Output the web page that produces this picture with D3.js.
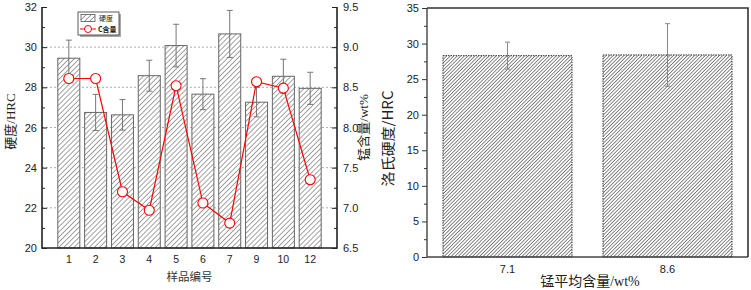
<!DOCTYPE html>
<html>
<head>
<meta charset="utf-8">
<script src="https://cdn.jsdelivr.net/npm/d3@7"></script>
<style>
  body { margin: 0; background: #fff; }
  svg { display: block; }
</style>
</head>
<body>
<div id="chart"></div>
<script>
// left chart data
const samples = ["1", "2", "3", "4", "5", "6", "7", "9", "10", "12"];
const hardness = [29.45, 26.75, 26.63, 28.58, 30.08, 27.66, 30.66, 27.26, 28.55, 27.95];
const hardnessErr = [0.9, 0.9, 0.76, 0.77, 1.06, 0.77, 1.17, 0.73, 0.85, 0.8];
const carbon = [8.61, 8.61, 7.2, 6.97, 8.52, 7.06, 6.81, 8.57, 8.49, 7.35];
const leftTicks = [20, 22, 24, 26, 28, 30, 32];
const rightTicks = [6.5, 7.0, 7.5, 8.0, 8.5, 9.0, 9.5];

// right chart data
const mnGroups = ["7.1", "8.6"];
const mnHardness = [28.3, 28.4];
const mnErr = [1.9, 4.4];
const mnTicks = [0, 5, 10, 15, 20, 25, 30, 35];

const width = 751, height = 290;
const sans = "'Liberation Sans', Arial, 'Noto Sans CJK SC', sans-serif";
const cjk = "'Noto Sans CJK SC', sans-serif";
const serif = "'Liberation Serif', 'Times New Roman', 'Noto Sans CJK SC', serif";

const svg = d3.select("#chart").append("svg")
    .attr("width", width)
    .attr("height", height)
    .attr("viewBox", [0, 0, width, height]);

const defs = svg.append("defs");
// hatch patterns
function hatch(id, size, color, sw) {
  const p = defs.append("pattern")
      .attr("id", id)
      .attr("patternUnits", "userSpaceOnUse")
      .attr("width", size).attr("height", size)
      .attr("patternTransform", "rotate(45)");
  p.append("rect").attr("width", size).attr("height", size).attr("fill", "#fff");
  p.append("line").attr("x1", 0).attr("y1", 0).attr("x2", 0).attr("y2", size)
      .attr("stroke", color).attr("stroke-width", sw);
}
hatch("hatchL", 3.6, "#444", 1);
hatch("hatchR", 2.5, "#3a3a3a", 1.2);

// ---------- left chart ----------
const L = {left: 42, right: 337, top: 7, bottom: 248};
const x = d3.scaleLinear([0, samples.length + 1], [L.left, L.right]);
const y = d3.scaleLinear([20, 32], [L.bottom, L.top]);
const y2 = d3.scaleLinear([6.5, 9.5], [L.bottom, L.top]);
const barW = 22;

const gL = svg.append("g");

// dashed grid
gL.append("g")
  .selectAll("line")
  .data(leftTicks.slice(1, -1))
  .join("line")
    .attr("x1", L.left).attr("x2", L.right)
    .attr("y1", d => y(d)).attr("y2", d => y(d))
    .attr("stroke", "#999").attr("stroke-width", 0.8)
    .attr("stroke-dasharray", "2,2");

// bars
gL.append("g")
  .selectAll("rect")
  .data(hardness)
  .join("rect")
    .attr("x", (d, i) => x(i + 1) - barW / 2)
    .attr("y", d => y(d))
    .attr("width", barW)
    .attr("height", d => y(20) - y(d))
    .attr("fill", "url(#hatchL)")
    .attr("stroke", "#666")
    .attr("stroke-width", 1);

// error bars
const eb = gL.append("g").attr("stroke", "#777").attr("stroke-width", 1);
hardness.forEach((d, i) => {
  const cx = x(i + 1), e = hardnessErr[i];
  eb.append("line").attr("x1", cx).attr("x2", cx).attr("y1", y(d + e)).attr("y2", y(d - e));
  eb.append("line").attr("x1", cx - 3).attr("x2", cx + 3).attr("y1", y(d + e)).attr("y2", y(d + e));
  eb.append("line").attr("x1", cx - 3).attr("x2", cx + 3).attr("y1", y(d - e)).attr("y2", y(d - e));
});

// carbon line
const line = d3.line().x((d, i) => x(i + 1)).y(d => y2(d));
gL.append("path")
    .datum(carbon)
    .attr("d", line)
    .attr("fill", "none")
    .attr("stroke", "#f00")
    .attr("stroke-width", 1.2);
gL.append("g")
  .selectAll("circle")
  .data(carbon)
  .join("circle")
    .attr("cx", (d, i) => x(i + 1))
    .attr("cy", d => y2(d))
    .attr("r", 5)
    .attr("fill", "#fff")
    .attr("stroke", "#f00")
    .attr("stroke-width", 1.1);

// axes (ticks inside)
const axisL = d3.axisLeft(y).tickValues(d3.range(20, 32.1, 1))
    .tickSize(-4).tickPadding(5)
    .tickFormat(d => d % 2 === 0 ? d : "");
gL.append("g").attr("transform", `translate(${L.left},0)`).call(axisL)
  .call(g => g.select(".domain").remove())
  .call(g => g.selectAll(".tick line").attr("stroke", "#222").attr("stroke-width", 1)
      .attr("x2", d => d % 2 === 0 ? 5 : 3))
  .call(g => g.selectAll("text").attr("font-family", sans).attr("font-size", 11).attr("fill", "#222"));

const axisR = d3.axisRight(y2).tickValues(d3.range(6.5, 9.51, 0.25))
    .tickSize(-4).tickPadding(6)
    .tickFormat(d => Math.round(d * 4) % 2 === 0 ? d3.format(".1f")(d) : "");
gL.append("g").attr("transform", `translate(${L.right},0)`).call(axisR)
  .call(g => g.select(".domain").remove())
  .call(g => g.selectAll(".tick line").attr("stroke", "#222").attr("stroke-width", 1)
      .attr("x2", d => Math.round(d * 4) % 2 === 0 ? -5 : -3))
  .call(g => g.selectAll("text").attr("font-family", sans).attr("font-size", 11).attr("fill", "#222"));

// bottom labels
gL.append("g")
  .selectAll("text")
  .data(samples)
  .join("text")
    .attr("x", (d, i) => x(i + 1))
    .attr("y", 263)
    .attr("text-anchor", "middle")
    .attr("font-family", sans).attr("font-size", 10.5).attr("fill", "#222")
    .text(d => d);

// frame lines
gL.append("path")
    .attr("d", `M${L.left},${L.top}V${L.bottom}H${L.right}V${L.top}`)
    .attr("fill", "none").attr("stroke", "#222").attr("stroke-width", 1.6);

// axis titles
gL.append("text")
    .attr("transform", `translate(15,${(L.top + L.bottom) / 2 - 6}) rotate(-90)`)
    .attr("text-anchor", "middle")
    .attr("font-family", serif).attr("font-size", 13).attr("fill", "#222")
    .text("硬度/HRC");
gL.append("text")
    .attr("transform", `translate(368,${(L.top + L.bottom) / 2}) rotate(-90)`)
    .attr("text-anchor", "middle")
    .attr("font-family", serif).attr("font-size", 13).attr("fill", "#222")
    .text("锰含量/wt%");
gL.append("text")
    .attr("x", (L.left + L.right) / 2)
    .attr("y", 281)
    .attr("text-anchor", "middle")
    .attr("font-family", cjk).attr("font-size", 11.5).attr("fill", "#333")
    .text("样品编号");

// legend
const lg = gL.append("g").attr("transform", "translate(78,12)");
lg.append("rect").attr("x", 2).attr("y", 2).attr("width", 41).attr("height", 23).attr("fill", "#aaa");
lg.append("rect").attr("width", 41).attr("height", 23).attr("fill", "#fff").attr("stroke", "#333").attr("stroke-width", 0.8);
lg.append("rect").attr("x", 3).attr("y", 2.5).attr("width", 14).attr("height", 7)
    .attr("fill", "url(#hatchL)").attr("stroke", "#555").attr("stroke-width", 0.8);
lg.append("text").attr("x", 21).attr("y", 9).attr("font-family", cjk).attr("font-size", 7).attr("fill", "#222").text("硬度");
lg.append("line").attr("x1", 2).attr("x2", 18).attr("y1", 17).attr("y2", 17).attr("stroke", "#f00").attr("stroke-width", 1);
lg.append("circle").attr("cx", 10).attr("cy", 17).attr("r", 3.5).attr("fill", "#fff").attr("stroke", "#f00");
lg.append("text").attr("x", 20).attr("y", 20).attr("font-family", cjk).attr("font-size", 7).attr("font-weight", "bold").attr("fill", "#222").text("C含量");

// ---------- right chart ----------
const R = {left: 427, right: 748, top: 8, bottom: 257};
const xb = d3.scaleBand(mnGroups, [R.left, R.right]).paddingInner(0.194).paddingOuter(0.1);
const yb = d3.scaleLinear([0, 35], [R.bottom, R.top]);
const gR = svg.append("g");

gR.append("g")
  .selectAll("rect")
  .data(mnHardness)
  .join("rect")
    .attr("x", (d, i) => xb(mnGroups[i]))
    .attr("y", d => yb(d))
    .attr("width", xb.bandwidth())
    .attr("height", d => yb(0) - yb(d))
    .attr("fill", "url(#hatchR)")
    .attr("stroke", "#333")
    .attr("stroke-width", 1)
    .attr("stroke-dasharray", "1.5,1");

const ebR = gR.append("g").attr("stroke", "#888").attr("stroke-width", 1);
mnHardness.forEach((d, i) => {
  const cx = xb(mnGroups[i]) + xb.bandwidth() / 2, e = mnErr[i];
  ebR.append("line").attr("x1", cx).attr("x2", cx).attr("y1", yb(d + e)).attr("y2", yb(d - e));
  ebR.append("line").attr("x1", cx - 2.5).attr("x2", cx + 2.5).attr("y1", yb(d + e)).attr("y2", yb(d + e));
  ebR.append("line").attr("x1", cx - 2.5).attr("x2", cx + 2.5).attr("y1", yb(d - e)).attr("y2", yb(d - e));
});

const axisB = d3.axisLeft(yb).tickValues(d3.range(0, 35.1, 2.5))
    .tickSize(4).tickPadding(4)
    .tickFormat(d => d % 5 === 0 ? d : "");
gR.append("g").attr("transform", `translate(${R.left},0)`).call(axisB)
  .call(g => g.select(".domain").remove())
  .call(g => g.selectAll(".tick line").attr("stroke", "#333").attr("stroke-width", 1)
      .attr("x2", d => d % 5 === 0 ? -5 : -3))
  .call(g => g.selectAll("text").attr("font-family", sans).attr("font-size", 11).attr("fill", "#222"));

gR.append("g")
  .selectAll("text")
  .data(mnGroups)
  .join("text")
    .attr("x", d => xb(d) + xb.bandwidth() / 2)
    .attr("y", 273)
    .attr("text-anchor", "middle")
    .attr("font-family", sans).attr("font-size", 11).attr("fill", "#222")
    .text(d => d);

gR.append("path")
    .attr("d", `M${R.left},${R.top}V${R.bottom}H${R.right}`)
    .attr("fill", "none").attr("stroke", "#444").attr("stroke-width", 1.4);
gR.append("path")
    .attr("d", `M${R.left},${R.top}H${R.right}V${R.bottom}`)
    .attr("fill", "none").attr("stroke", "#333").attr("stroke-width", 1.6);

gR.append("text")
    .attr("transform", `translate(393,${(R.top + R.bottom) / 2 + 6}) rotate(-90)`)
    .attr("text-anchor", "middle")
    .attr("font-family", cjk).attr("font-size", 14).attr("fill", "#222")
    .attr("textLength", 96).attr("lengthAdjust", "spacingAndGlyphs")
    .text("洛氏硬度/HRC");
gR.append("text")
    .attr("x", 590)
    .attr("y", 286)
    .attr("text-anchor", "middle")
    .attr("font-family", serif).attr("font-size", 14).attr("fill", "#222")
    .text("锰平均含量/wt%");
</script>
</body>
</html>
